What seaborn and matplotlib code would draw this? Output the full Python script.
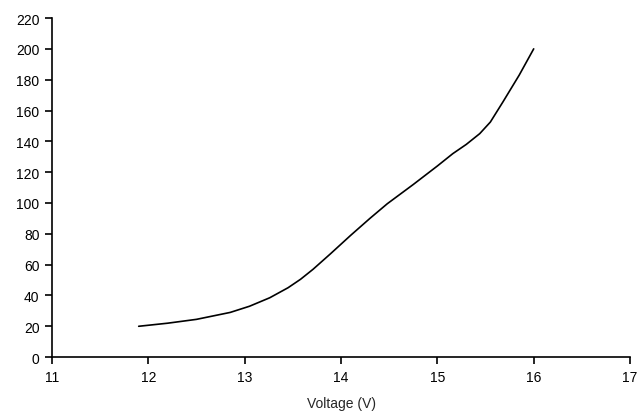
import matplotlib
matplotlib.use("Agg")
import matplotlib.pyplot as plt
import seaborn as sns
import pandas as pd

voltage = [11.9, 12.2, 12.5, 12.85, 13.05, 13.26, 13.45, 13.58, 13.71, 13.89, 14.1,
           14.3, 14.48, 14.75, 15.0, 15.16, 15.3, 15.44, 15.55, 15.68, 15.85, 16.0]
response = [20, 22, 24.5, 29, 33, 38.5, 45, 50.5, 57, 67, 79,
            90, 99.5, 112, 124, 132, 138, 145, 152.5, 165.5, 183, 200]
x_ticks = [11, 12, 13, 14, 15, 16, 17]
y_ticks = list(range(0, 221, 20))

sns.set_theme(style="ticks")
plt.rcParams["font.family"] = ["Liberation Sans", "DejaVu Sans"]

df = pd.DataFrame({"Voltage (V)": voltage, "value": response})

fig = plt.figure(figsize=(6.38, 4.14), dpi=100)
ax = fig.add_axes([0.0815, 0.135, 0.906, 0.819])
sns.lineplot(data=df, x="Voltage (V)", y="value", ax=ax, color="black", linewidth=1.2)

ax.set_xlim(11, 17)
ax.set_ylim(0, 220)
ax.set_xticks(x_ticks)
ax.set_yticks(y_ticks)
ax.set_xticklabels([str(t) for t in x_ticks])
ax.set_yticklabels([str(t) for t in y_ticks])
ax.tick_params(axis="both", direction="out", length=5, width=1.2, labelsize=10, colors="black", pad=4)
ax.set_xlabel("Voltage (V)", fontsize=10, labelpad=9)
ax.set_ylabel("")
for side in ("top", "right"):
    ax.spines[side].set_visible(False)
for side in ("left", "bottom"):
    ax.spines[side].set_linewidth(1.2)
    ax.spines[side].set_color("black")

fig.savefig("out.png", dpi=100)
